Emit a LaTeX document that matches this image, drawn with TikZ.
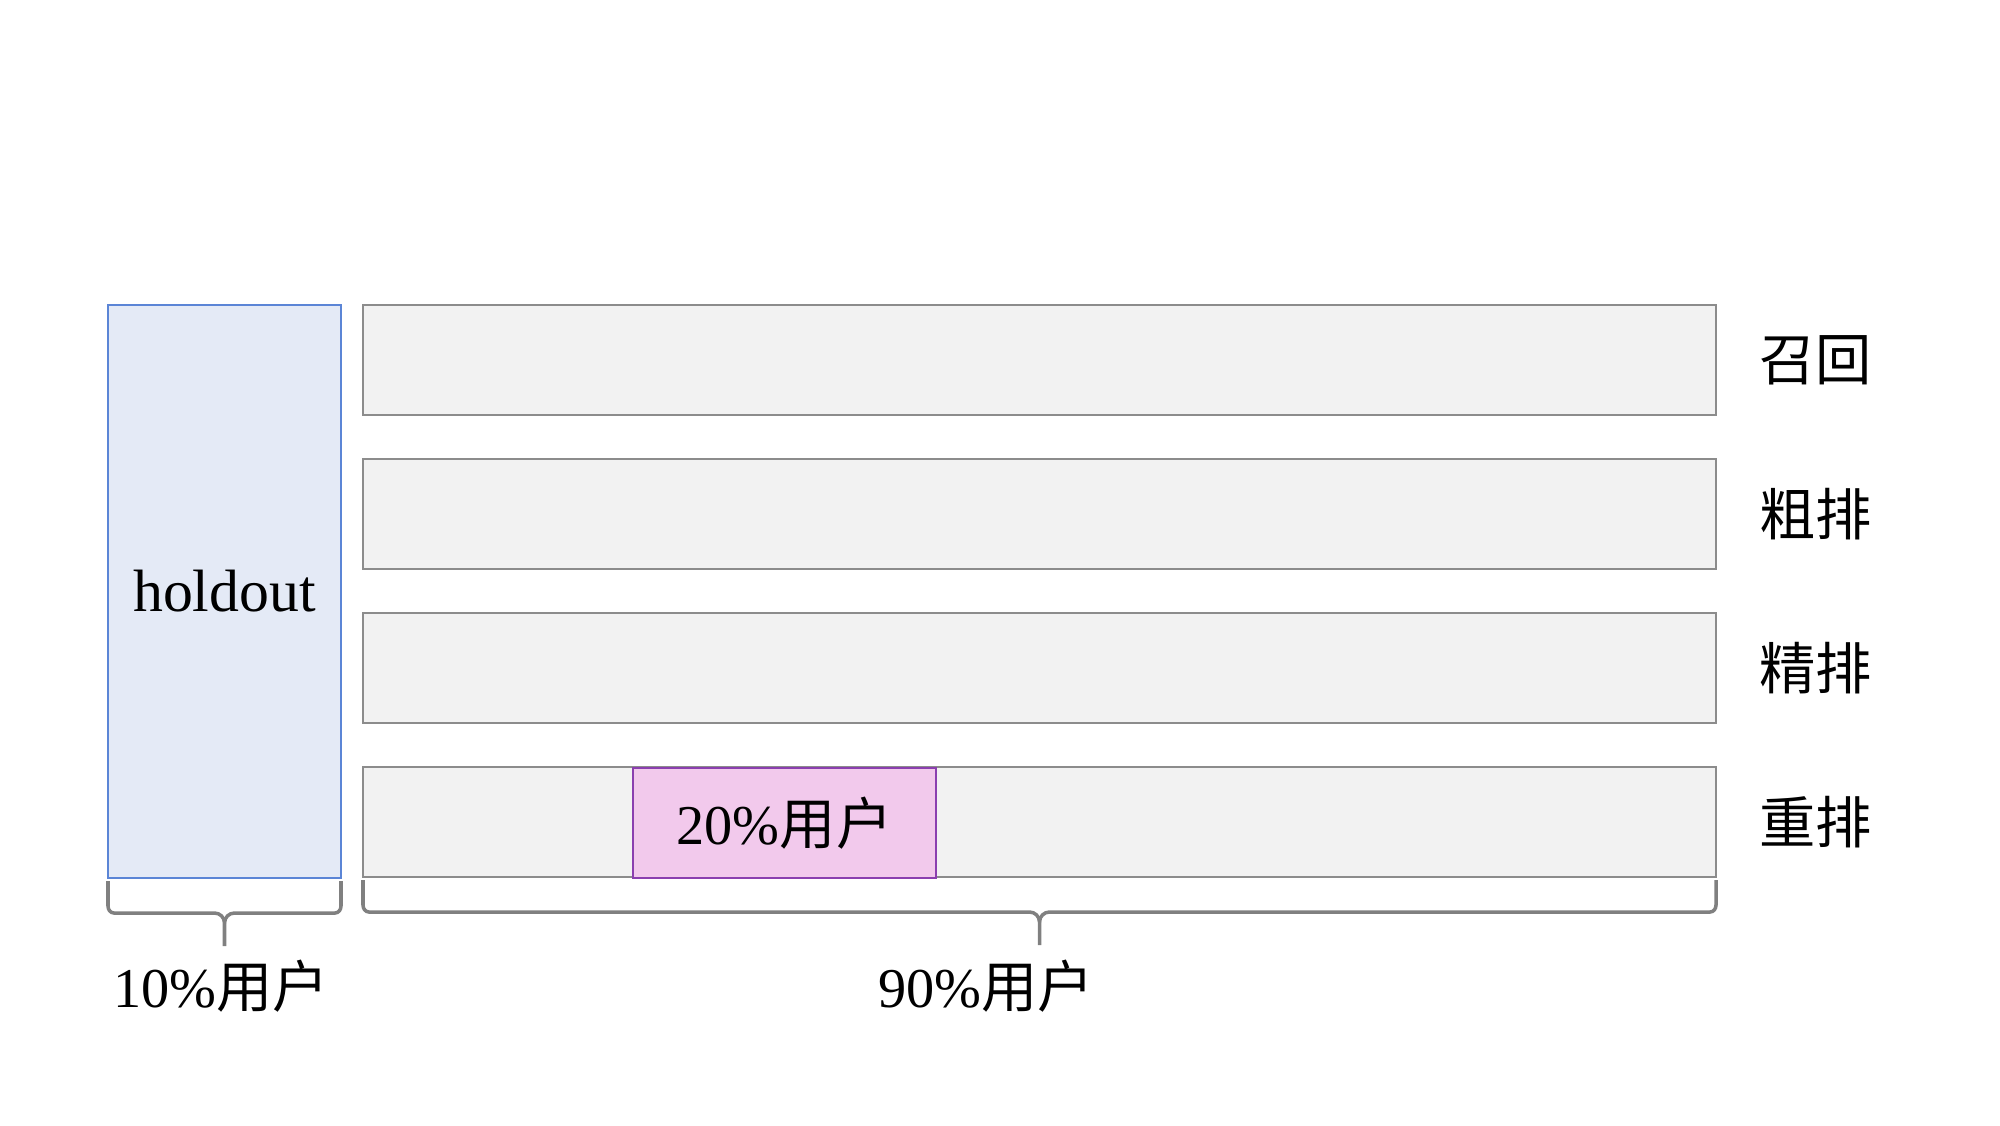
\documentclass[tikz,border=0pt]{standalone}
\usepackage{fontspec}
\setmainfont{Liberation Serif}
\newfontfamily\cjk{Noto Sans CJK SC}
\usetikzlibrary{positioning}
\definecolor{holdfill}{HTML}{E4EAF6}
\definecolor{holdline}{HTML}{5B85D6}
\definecolor{stagefill}{HTML}{F2F2F2}
\definecolor{stageline}{HTML}{8C8C8C}
\definecolor{testfill}{HTML}{F2C9EC}
\definecolor{testline}{HTML}{8B3FAF}
\definecolor{bracegray}{HTML}{808080}
\tikzset{
  stage/.style = {rectangle, draw=stageline, fill=stagefill, line width=0.6pt, outer sep=0pt, minimum width=13.53cm, minimum height=1.1cm, anchor=center},
  holdbox/.style = {rectangle, draw=holdline, fill=holdfill, line width=0.6pt, outer sep=0pt, minimum width=2.33cm, minimum height=5.73cm, anchor=center, font=\fontsize{17}{20}\selectfont},
  testbox/.style = {rectangle, draw=testline, fill=testfill, line width=0.6pt, outer sep=0pt, minimum width=3.03cm, minimum height=1.1cm, anchor=center, font=\fontsize{16}{19}\selectfont},
  stagelabel/.style = {anchor=west, font=\cjk\fontsize{16}{19}\selectfont},
  pctlabel/.style = {anchor=center, font=\fontsize{16}{19}\selectfont},
  bracestroke/.style = {draw=bracegray, line width=1pt}
}
% brace under a node, tip in the middle
\newcommand{\splitbrace}[1]{%
  \draw[bracestroke] ([yshift=-0.03cm]#1.south west) -- ([yshift=-0.28cm]#1.south west)
    to[out=-90,in=180] ([shift={(0.06,-0.35)}]#1.south west)
    -- ([shift={(-0.1,-0.35)}]#1.south)
    to[out=0,in=90] ([yshift=-0.45cm]#1.south) -- ([yshift=-0.68cm]#1.south);
  \draw[bracestroke] ([yshift=-0.03cm]#1.south east) -- ([yshift=-0.28cm]#1.south east)
    to[out=-90,in=0] ([shift={(-0.06,-0.35)}]#1.south east)
    -- ([shift={(0.1,-0.35)}]#1.south)
    to[out=180,in=90] ([yshift=-0.45cm]#1.south);
}

\begin{document}
\begin{tikzpicture}
\useasboundingbox (0,0) rectangle (20,-11.25);
% holdout bucket
\node[holdbox] (holdout) at (2.245,-5.915) {holdout};
% pipeline stages
\node[stage] (recall) at (10.395,-3.6) {};
\node[stage, below=0.44cm of recall] (prerank) {};
\node[stage, below=0.44cm of prerank] (rank) {};
\node[stage, below=0.44cm of rank] (rerank) {};
\node[testbox] (test) at (7.845,-8.23) {20\%{\cjk 用户}};
% stage names
\node[stagelabel, right=0.31cm of recall] (recalllabel) {召回};
\node[stagelabel, right=0.31cm of prerank] (prereanklabel) {粗排};
\node[stagelabel, right=0.31cm of rank] (ranklabel) {精排};
\node[stagelabel, right=0.31cm of rerank] (reranklabel) {重排};
% user split
\splitbrace{holdout}
\splitbrace{rerank}
\node[pctlabel] (holdpct) at (2.21,-9.86) {10\%{\cjk 用户}};
\node[pctlabel] (mainpct) at (9.86,-9.86) {90\%{\cjk 用户}};
\end{tikzpicture}
\end{document}
